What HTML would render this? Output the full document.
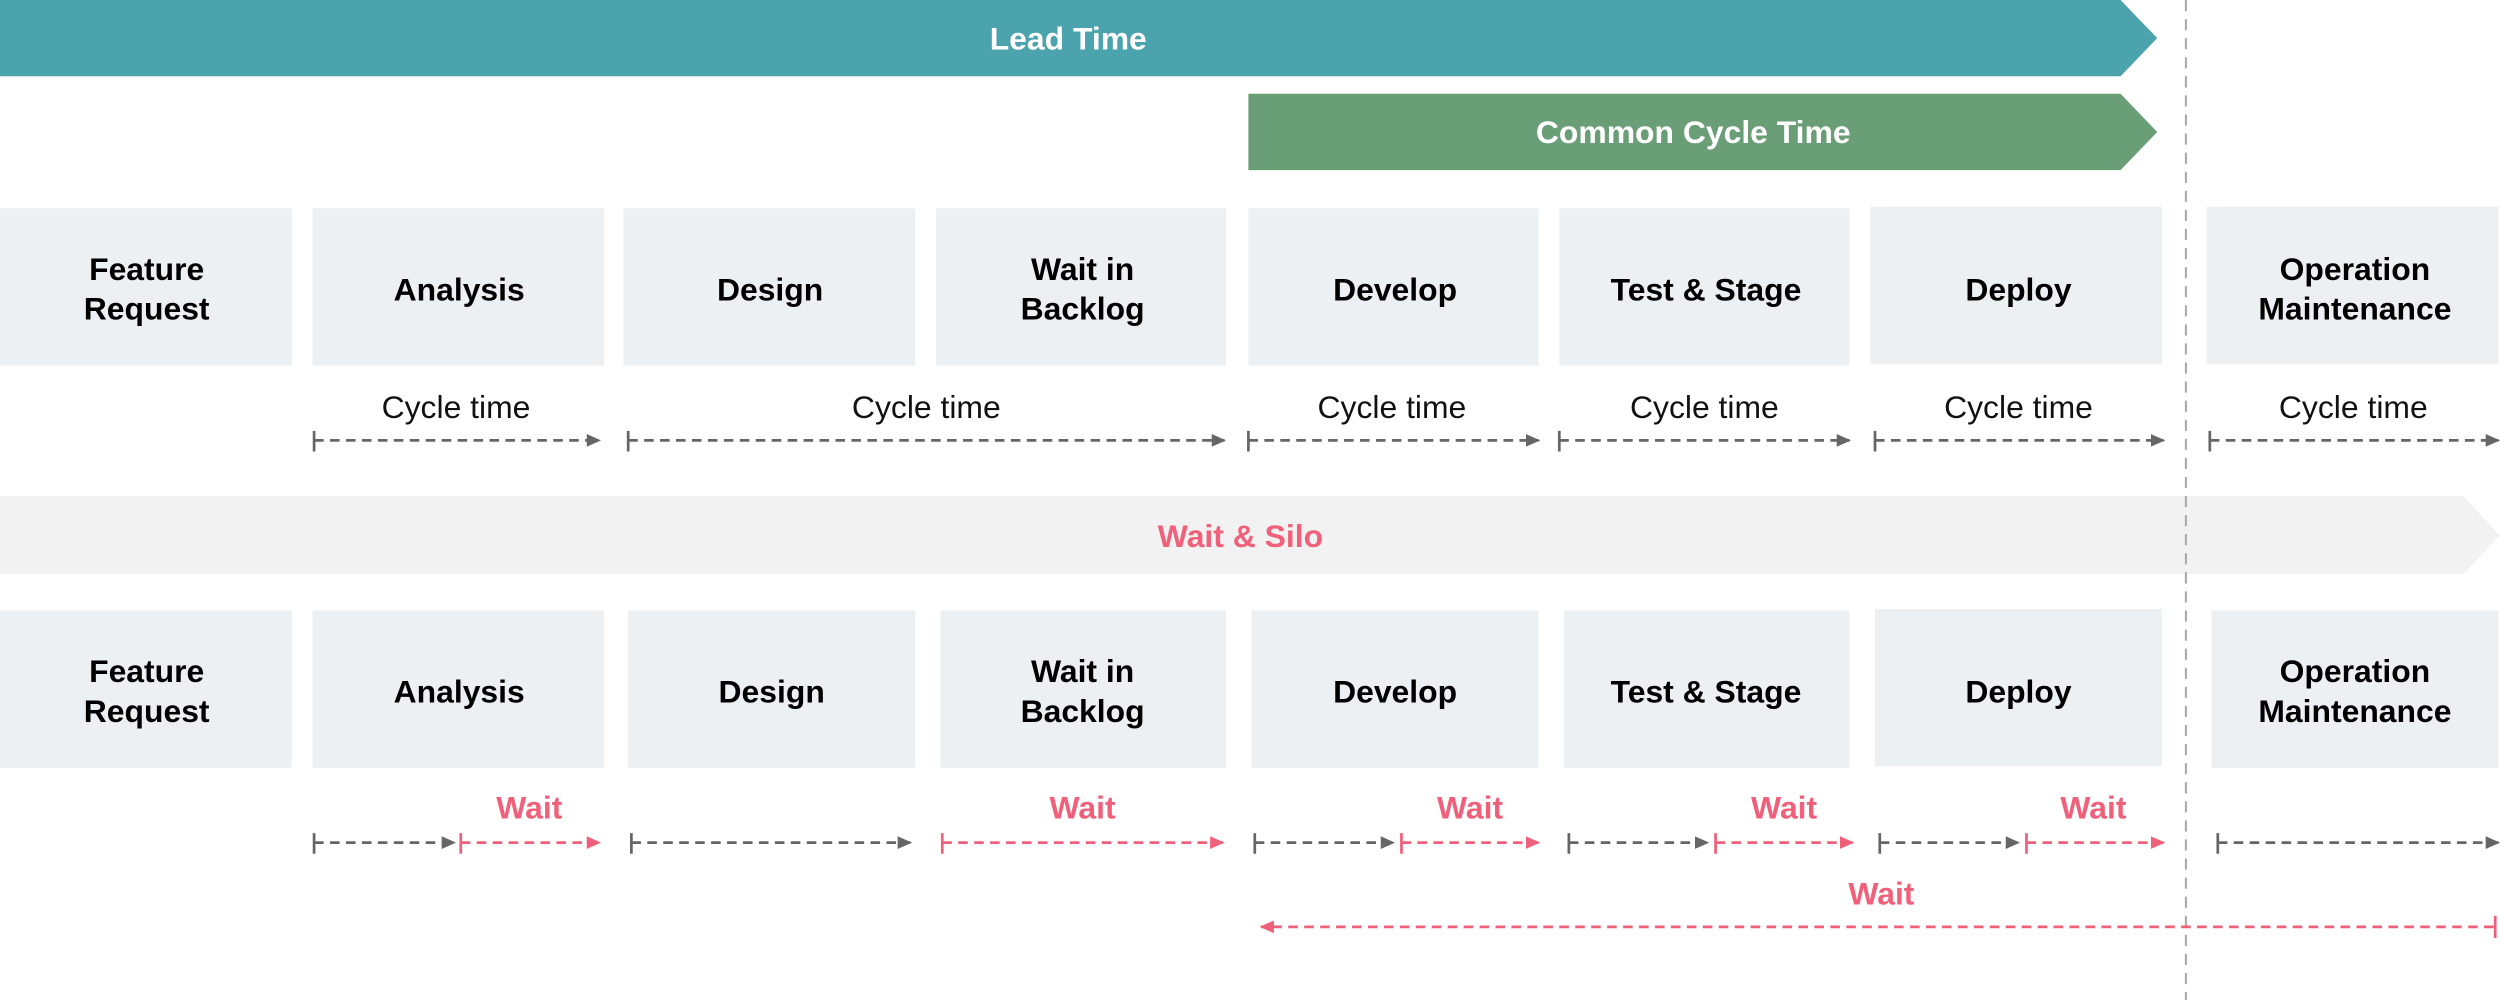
<!DOCTYPE html>
<html><head><meta charset="utf-8"><style>html,body{margin:0;padding:0;background:#fff;width:2500px;height:1000px;overflow:hidden}svg{display:block}</style></head>
<body>
<svg width="2500" height="1000" viewBox="0 0 1568 629" preserveAspectRatio="none" xmlns="http://www.w3.org/2000/svg" font-family="Liberation Sans, Arial, sans-serif">
<defs>
<marker id="ag" markerWidth="9" markerHeight="9" refX="8" refY="4.5" orient="auto" markerUnits="userSpaceOnUse"><path d="M0,0.5 L9,4.5 L0,8.5Z" fill="#666"/></marker>
<marker id="ap" markerWidth="9" markerHeight="9" refX="8" refY="4.5" orient="auto" markerUnits="userSpaceOnUse"><path d="M0,0.5 L9,4.5 L0,8.5Z" fill="#f0607a"/></marker>
</defs>
<polygon points="0,0 1330,0 1353,24 1330,48 0,48" fill="#4aa3ad"/>
<text x="670" y="31" font-size="20" font-weight="bold" fill="#fff" text-anchor="middle">Lead Time</text>
<polygon points="783,59 1330,59 1353,83 1330,107 783,107" fill="#6a9e77"/>
<text x="1062" y="90" font-size="20" font-weight="bold" fill="#fff" text-anchor="middle">Common Cycle Time</text>
<polygon points="0,312 1545,312 1568,337 1545,361 0,361" fill="#f2f2f2"/>
<text x="778" y="344" font-size="20" font-weight="bold" fill="#f0607a" text-anchor="middle">Wait &amp; Silo</text>
<line x1="1371" y1="0" x2="1371" y2="629" stroke="#aaa" stroke-width="1.3" stroke-dasharray="7,5"/>
<g fill="#edf0f3">
<rect x="0" y="131" width="183" height="99"/><rect x="196" y="131" width="183" height="99"/><rect x="391" y="131" width="183" height="99"/><rect x="587" y="131" width="182" height="99"/><rect x="783" y="131" width="182" height="99"/><rect x="978" y="131" width="182" height="99"/><rect x="1173" y="130" width="183" height="99"/><rect x="1384" y="130" width="183" height="99"/>
<rect x="0" y="384" width="183" height="99"/><rect x="196" y="384" width="183" height="99"/><rect x="394" y="384" width="180" height="99"/><rect x="590" y="384" width="179" height="99"/><rect x="785" y="384" width="180" height="99"/><rect x="981" y="384" width="179" height="99"/><rect x="1176" y="383" width="180" height="99"/><rect x="1387" y="384" width="180" height="99"/>
</g>
<g font-size="20" font-weight="bold" fill="#000" text-anchor="middle">
<text x="92" y="176">Feature</text><text x="92" y="201">Request</text>
<text x="288" y="189">Analysis</text><text x="483" y="189">Design</text>
<text x="679" y="176">Wait in</text><text x="679" y="201">Backlog</text>
<text x="875" y="189">Develop</text><text x="1070" y="189">Test &amp; Stage</text><text x="1266" y="189">Deploy</text>
<text x="1477" y="176">Operation</text><text x="1477" y="201">Maintenance</text>
<text x="92" y="429">Feature</text><text x="92" y="454">Request</text>
<text x="288" y="442">Analysis</text><text x="484" y="442">Design</text>
<text x="679" y="429">Wait in</text><text x="679" y="454">Backlog</text>
<text x="875" y="442">Develop</text><text x="1070" y="442">Test &amp; Stage</text><text x="1266" y="442">Deploy</text>
<text x="1477" y="429">Operation</text><text x="1477" y="454">Maintenance</text>
</g>
<g font-size="20" fill="#111" text-anchor="middle">
<text x="286" y="263">Cycle time</text><text x="581" y="263">Cycle time</text><text x="873" y="263">Cycle time</text><text x="1069" y="263">Cycle time</text><text x="1266" y="263">Cycle time</text><text x="1476" y="263">Cycle time</text>
</g>
<g font-size="20" font-weight="bold" fill="#f0607a" text-anchor="middle">
<text x="332" y="515">Wait</text><text x="679" y="515">Wait</text><text x="922" y="515">Wait</text><text x="1119" y="515">Wait</text><text x="1313" y="515">Wait</text><text x="1180" y="569">Wait</text>
</g>
<g stroke="#666" stroke-width="1.7" fill="none">
<g stroke-dasharray="6,4" marker-end="url(#ag)">
<line x1="197" y1="277" x2="376" y2="277"/><line x1="394" y1="277" x2="768" y2="277"/><line x1="783" y1="277" x2="965" y2="277"/><line x1="978" y1="277" x2="1160" y2="277"/><line x1="1176" y1="277" x2="1357" y2="277"/><line x1="1386" y1="277" x2="1567" y2="277"/>
<line x1="197" y1="530" x2="285" y2="530"/><line x1="396" y1="530" x2="571" y2="530"/><line x1="787" y1="530" x2="874" y2="530"/><line x1="984" y1="530" x2="1071" y2="530"/><line x1="1179" y1="530" x2="1266" y2="530"/><line x1="1391" y1="530" x2="1567" y2="530"/>
</g>
<path d="M197,271V284M394,271V284M783,271V284M978,271V284M1176,271V284M1386,271V284M197,524V537M396,524V537M787,524V537M984,524V537M1179,524V537M1391,524V537"/>
</g>
<g stroke="#f0607a" stroke-width="1.7" fill="none">
<g stroke-dasharray="6,4" marker-end="url(#ap)">
<line x1="289" y1="530" x2="376" y2="530"/><line x1="591" y1="530" x2="767" y2="530"/><line x1="879" y1="530" x2="965" y2="530"/><line x1="1076" y1="530" x2="1162" y2="530"/><line x1="1271" y1="530" x2="1357" y2="530"/>
<line x1="1564" y1="583" x2="791" y2="583"/>
</g>
<path d="M289,524V537M591,524V537M879,524V537M1076,524V537M1271,524V537M1565,576V590"/>
</g>
</svg>
</body></html>
